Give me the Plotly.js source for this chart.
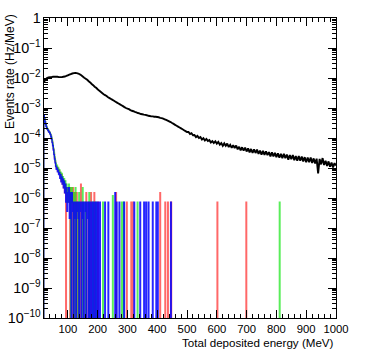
<!DOCTYPE html>
<html>
<head>
<meta charset="utf-8">
<script src="https://cdn.plot.ly/plotly-3.0.1.min.js"></script>
<style>
  html, body { margin: 0; padding: 0; background: #fff; }
  #chart { width: 374px; height: 354px; }
</style>
</head>
<body>
<div id="chart"></div>
<script>
// ── Data ────────────────────────────────────────────────────────────────
// Total spectrum: 5 MeV bins starting at 20 MeV (Hz/MeV)
const blackStart = 20, blackStep = 5;
const blackRate = [
  7.4e-3, 8.9e-3, 1.0e-2, 1.05e-2, 1.07e-2, 1.07e-2, 1.1e-2, 1.1e-2, 1.1e-2, 1.1e-2,
  1.07e-2, 1.07e-2, 1.07e-2, 1.1e-2, 1.12e-2, 1.17e-2, 1.23e-2, 1.29e-2, 1.35e-2, 1.41e-2,
  1.46e-2, 1.48e-2, 1.46e-2, 1.41e-2, 1.33e-2, 1.23e-2, 1.12e-2, 1.02e-2, 9.5e-3, 8.7e-3,
  7.8e-3, 7.1e-3, 6.3e-3, 5.75e-3, 5.1e-3, 4.7e-3, 4.2e-3, 3.8e-3, 3.47e-3, 3.16e-3,
  2.88e-3, 2.69e-3, 2.51e-3, 2.29e-3, 2.14e-3, 2.0e-3, 1.86e-3, 1.74e-3, 1.62e-3, 1.51e-3,
  1.41e-3, 1.32e-3, 1.23e-3, 1.15e-3, 1.07e-3, 1.0e-3, 9.5e-4, 9.1e-4, 8.5e-4, 8.1e-4,
  7.8e-4, 7.4e-4, 7.1e-4, 6.8e-4, 6.6e-4, 6.3e-4, 6.2e-4, 6.0e-4, 5.9e-4, 5.75e-4,
  5.5e-4, 5.4e-4, 5.25e-4, 5.25e-4, 5.1e-4, 5.1e-4, 5.0e-4, 4.9e-4, 4.7e-4, 4.6e-4,
  4.4e-4, 4.2e-4, 4.0e-4, 3.8e-4, 3.6e-4, 3.4e-4, 3.16e-4, 2.95e-4, 2.75e-4, 2.57e-4,
  2.4e-4, 2.24e-4, 2.09e-4, 1.95e-4, 1.82e-4, 1.7e-4, 1.58e-4,
  1.58e-4, 1.35e-4, 1.45e-4, 1.23e-4, 1.26e-4, 1.07e-4, 1.17e-4, 1.0e-4, 1.07e-4, 8.9e-5,
  9.8e-5, 8.3e-5, 9.3e-5, 7.9e-5, 8.5e-5, 7.1e-5, 7.9e-5, 6.8e-5, 7.8e-5, 6.5e-5,
  7.4e-5, 6.0e-5, 6.8e-5, 5.5e-5, 6.6e-5, 5.5e-5, 6.5e-5, 5.0e-5, 5.9e-5, 4.7e-5,
  5.75e-5, 4.6e-5, 5.6e-5, 4.2e-5, 5.1e-5, 3.9e-5, 4.9e-5, 3.8e-5, 4.8e-5, 3.55e-5,
  4.5e-5, 3.3e-5, 4.3e-5, 3.16e-5, 4.2e-5, 3.16e-5, 4.1e-5, 2.95e-5, 3.8e-5, 2.8e-5,
  3.7e-5, 2.75e-5, 3.6e-5, 2.7e-5, 3.4e-5, 2.45e-5, 3.3e-5, 2.45e-5, 3.2e-5, 2.3e-5,
  3.1e-5, 2.2e-5, 2.95e-5, 2.14e-5, 2.95e-5, 2.14e-5, 2.8e-5, 1.9e-5, 2.7e-5, 1.95e-5,
  2.7e-5, 1.82e-5, 2.5e-5, 1.74e-5, 2.5e-5, 1.74e-5, 2.4e-5, 1.66e-5, 2.3e-5, 1.55e-5,
  2.24e-5, 1.55e-5, 2.24e-5, 1.48e-5, 2.09e-5, 1.41e-5, 2.04e-5, 6.6e-6, 2.0e-5, 1.32e-5,
  2.14e-5, 1.26e-5, 1.74e-5, 1.17e-5, 1.66e-5, 1.1e-5, 1.51e-5, 1.05e-5, 1.45e-5, 1.2e-5
];

// Component spectra: 2 MeV bins from 20 MeV (0 = empty bin), then isolated filled bins
const binStart = 20, binW = 2;
const redDense = [
  5.6e-4, 4.3e-4, 3.45e-4, 2.85e-4, 2.45e-4, 2.15e-4, 1.98e-4, 1.82e-4, 1.68e-4, 1.58e-4,
  1.47e-4, 1.32e-4, 1.15e-4, 9.5e-5, 7.5e-5, 5.8e-5, 4.3e-5, 3.0e-5, 2.2e-5, 1.65e-5,
  1.25e-5, 1.0e-5, 1.1e-5, 8.0e-6, 9.5e-6, 6.6e-6, 8.0e-6, 5.1e-6, 6.6e-6, 3.7e-6,
  5.9e-6, 2.9e-6, 4.4e-6, 2.2e-6, 3.7e-6, 1.5e-6, 2.9e-6, 0, 2.2e-6, 7.3e-7,
  1.5e-6, 2.2e-6, 7.3e-7, 1.5e-6, 0, 2.2e-6, 7.3e-7, 1.5e-6, 0, 2.2e-6,
  7.3e-7, 0, 1.5e-6, 7.3e-7, 0, 1.5e-6
];
const redHitE    = [136, 144, 152, 162, 170, 178, 189, 201, 262, 298, 313, 318, 410, 427, 436, 447, 602, 699];
const redHitRate = [7.3e-7, 2.9e-6, 7.3e-7, 1.5e-6, 7.3e-7, 1.5e-6, 1.5e-6, 7.3e-7, 1.5e-6, 7.3e-7,
                    7.3e-7, 7.3e-7, 1.5e-6, 7.3e-7, 7.3e-7, 7.3e-7, 7.3e-7, 7.3e-7];

const greenDense = [
  5.8e-4, 4.4e-4, 3.5e-4, 2.9e-4, 2.5e-4, 2.2e-4, 2.0e-4, 1.85e-4, 1.7e-4, 1.6e-4,
  1.5e-4, 1.35e-4, 1.2e-4, 1.0e-4, 8.0e-5, 6.2e-5, 4.6e-5, 3.3e-5, 2.4e-5, 1.8e-5,
  1.4e-5, 1.1e-5, 1.25e-5, 9.0e-6, 1.05e-5, 7.3e-6, 8.8e-6, 5.9e-6, 7.3e-6, 4.4e-6,
  6.6e-6, 3.7e-6, 5.1e-6, 2.9e-6, 4.4e-6, 2.2e-6, 3.7e-6, 1.5e-6, 2.9e-6, 7.3e-7,
  2.2e-6, 1.5e-6, 2.9e-6, 7.3e-7, 2.2e-6, 0, 1.5e-6, 2.2e-6, 7.3e-7, 1.5e-6,
  0, 1.5e-6, 7.3e-7, 2.2e-6, 0, 7.3e-7
];
const greenHitE    = [138, 150, 160, 172, 184, 194, 218, 251, 281, 287, 334, 811];
const greenHitRate = [1.5e-6, 2.2e-6, 7.3e-7, 1.5e-6, 7.3e-7, 7.3e-7, 7.3e-7, 1.2e-6, 7.3e-7, 7.3e-7,
                      7.3e-7, 7.3e-7];

const blueDense = [
  5.5e-4, 4.2e-4, 3.4e-4, 2.8e-4, 2.4e-4, 2.1e-4, 1.95e-4, 1.8e-4, 1.65e-4, 1.55e-4,
  1.45e-4, 1.3e-4, 1.1e-4, 9.0e-5, 7.0e-5, 5.5e-5, 4.0e-5, 2.8e-5, 2.0e-5, 1.5e-5,
  1.15e-5, 9.0e-6, 1.0e-5, 7.5e-6, 8.5e-6, 6.0e-6, 7.0e-6, 4.5e-6, 6.0e-6, 3.5e-6,
  5.0e-6, 2.9e-6, 4.2e-6, 2.2e-6, 3.6e-6, 1.5e-6, 2.9e-6, 7.3e-7, 2.2e-6, 3.6e-7,
  1.5e-6, 7.3e-7, 2.2e-6, 2.1e-7, 1.5e-6, 7.3e-7, 0, 1.5e-6, 3.6e-7, 7.3e-7,
  0, 7.3e-7, 2.1e-7, 7.3e-7, 0, 7.3e-7, 3.6e-7, 7.3e-7, 2.1e-7, 0,
  7.3e-7, 7.3e-7, 3.6e-7, 0, 7.3e-7, 2.1e-7, 7.3e-7, 0, 7.3e-7, 3.6e-7,
  7.3e-7, 0, 7.3e-7, 2.1e-7, 7.3e-7, 0, 3.6e-7, 7.3e-7, 0, 7.3e-7,
  2.1e-7, 0, 7.3e-7, 3.6e-7, 0, 7.3e-7, 2.1e-7, 0, 7.3e-7, 0,
  3.6e-7, 7.3e-7, 0, 0, 7.3e-7
];
const blueHitE    = [225, 236, 259, 264, 273, 289, 323, 343, 356, 363, 371, 385, 397, 402, 446];
const blueHitRate = [7.3e-7, 7.3e-7, 1.5e-6, 7.3e-7, 7.3e-7, 7.3e-7, 7.3e-7, 7.3e-7, 7.3e-7, 7.3e-7,
                     7.3e-7, 7.3e-7, 7.3e-7, 7.3e-7, 7.3e-7];

// ── Helpers ─────────────────────────────────────────────────────────────
const FLOOR = 1e-13; // empty bins drop below the frame, like ROOT

// ROOT-style histogram outline: steps between bins, empty bins go to the bottom
function histOutline(dense, hitE, hitRate) {
  const bins = dense.map((v, i) => [binStart + binW * i, v])
    .concat(hitE.map((e, i) => [e, hitRate[i]]));
  const xs = [], ys = [];
  let prevHi = null;
  bins.forEach(([c, v]) => {
    const lo = c - binW / 2, hi = c + binW / 2;
    const y = v > 0 ? v : FLOOR;
    if (prevHi === null || Math.abs(prevHi - lo) > 1e-6) {
      if (prevHi !== null) { xs.push(prevHi); ys.push(FLOOR); }
      xs.push(lo); ys.push(FLOOR);
    }
    xs.push(lo, hi); ys.push(y, y);
    prevHi = hi;
  });
  xs.push(prevHi); ys.push(FLOOR);
  return { xs, ys };
}

function compTrace(dense, hitE, hitRate, color) {
  const h = histOutline(dense, hitE, hitRate);
  return {
    x: h.xs, y: h.ys,
    type: 'scatter', mode: 'lines',
    line: { color, width: 1.4, simplify: false },
    hoverinfo: 'skip'
  };
}

const red   = compTrace(redDense,   redHitE,   redHitRate,   'rgba(255,40,40,0.7)');
const green = compTrace(greenDense, greenHitE, greenHitRate, 'rgba(20,230,20,0.7)');
const blue  = compTrace(blueDense,  blueHitE,  blueHitRate,  'rgba(0,0,255,0.85)');

const total = {
  x: blackRate.map((_, i) => blackStart + blackStep * i),
  y: blackRate,
  type: 'scatter', mode: 'lines',
  line: { color: '#000000', width: 1.9, simplify: false },
  hoverinfo: 'skip'
};

// ── Layout ──────────────────────────────────────────────────────────────
const FONT = 'Liberation Sans, Arial, Helvetica, sans-serif';

const layout = {
  width: 374, height: 354,
  margin: { l: 44, r: 38, t: 18, b: 36 },
  paper_bgcolor: '#FFFFFF',
  plot_bgcolor: '#FFFFFF',
  showlegend: false,
  font: { family: FONT, size: 11, color: '#000000' },
  xaxis: {
    range: [20, 1000],
    tick0: 0, dtick: 100,
    ticks: 'inside', ticklen: 8, tickwidth: 1, tickcolor: '#000',
    minor: { ticks: 'inside', ticklen: 4, tick0: 0, dtick: 20, tickcolor: '#000', showgrid: false },
    showline: true, linecolor: '#000', linewidth: 1, mirror: 'ticks',
    showgrid: false, zeroline: false,
    tickfont: { size: 11.3 }
  },
  yaxis: {
    type: 'log',
    range: [-10, 0],
    dtick: 1,
    exponentformat: 'power',
    ticks: 'inside', ticklen: 8, tickwidth: 1, tickcolor: '#000',
    minor: { ticks: 'inside', ticklen: 4, dtick: 'D1', tickcolor: '#000', showgrid: false },
    showline: true, linecolor: '#000', linewidth: 1, mirror: 'ticks',
    showgrid: false, zeroline: false,
    tickfont: { size: 11.5 }
  },
  annotations: [
    {
      text: 'Total deposited energy (MeV)',
      xref: 'paper', yref: 'paper',
      x: 1, y: -0.08, xanchor: 'right', yanchor: 'middle',
      showarrow: false, font: { size: 11.6 }
    },
    {
      text: 'Events rate (Hz/MeV)',
      xref: 'paper', yref: 'paper',
      x: -0.118, y: 1.02, xanchor: 'center', yanchor: 'top',
      textangle: -90,
      showarrow: false, font: { size: 12 }
    }
  ]
};

Plotly.newPlot('chart', [red, green, blue, total], layout, { displayModeBar: false, staticPlot: true });
</script>
</body>
</html>
